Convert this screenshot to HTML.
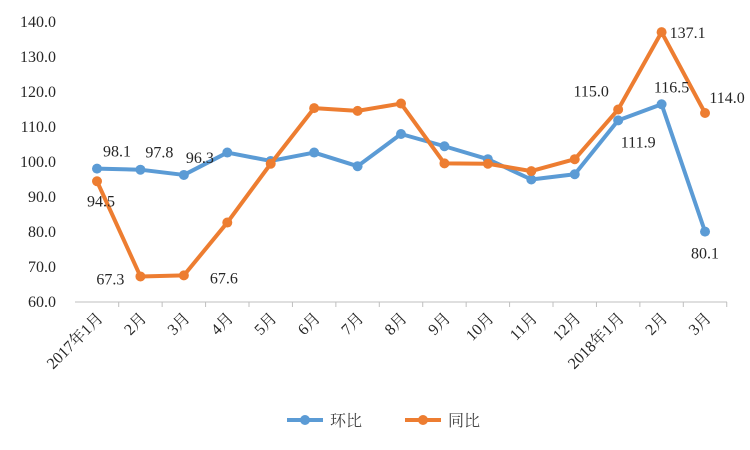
<!DOCTYPE html>
<html><head><meta charset="utf-8"><style>
body{margin:0;background:#fff;}
svg{display:block;font-family:"Liberation Serif","Noto Serif CJK SC",serif;}
</style></head><body>
<svg id="chart" width="750" height="450" viewBox="0 0 750 450" xmlns="http://www.w3.org/2000/svg">
<g id="axes"></g>
<g id="series"></g>
<g id="labels"></g>
<g>
  <g>
    <line x1="287" y1="420" x2="323" y2="420" stroke="#5B9BD5" stroke-width="4"/>
    <circle cx="305" cy="420" r="5" fill="#5B9BD5"/>
    <text x="330" y="426" font-size="16" fill="#404040">环比</text>
  </g>
  <g>
    <line x1="405" y1="420" x2="441" y2="420" stroke="#ED7D31" stroke-width="4"/>
    <circle cx="423" cy="420" r="5" fill="#ED7D31"/>
    <text x="448" y="426" font-size="16" fill="#404040">同比</text>
  </g>
</g>
</svg>
<script>
const categories=["2017年1月","2月","3月","4月","5月","6月","7月","8月","9月","10月","11月","12月","2018年1月","2月","3月"];
const huanbi=[98.1,97.8,96.3,102.7,100.3,102.7,98.8,108.0,104.5,100.8,95.0,96.5,111.9,116.5,80.1];
const tongbi=[94.5,67.3,67.6,82.7,99.5,115.4,114.6,116.7,99.6,99.5,97.4,100.8,115.0,137.1,114.0];
const yTicks=[60,70,80,90,100,110,120,130,140];
const huanbiLabeled=[0,1,2,12,13,14];
const tongbiLabeled=[0,1,2,12,13,14];
const NS="http://www.w3.org/2000/svg";
const x0=97,dx=43.43,yBase=302,yTop=22;
const xs=i=>x0+i*dx;
const ys=v=>yBase-(v-60)*(yBase-yTop)/80;
function mk(tag,attrs,parent){const e=document.createElementNS(NS,tag);for(const k in attrs)e.setAttribute(k,attrs[k]);parent.appendChild(e);return e;}
const axes=document.getElementById('axes');
const ax=mk('line',{x1:75,y1:yBase,x2:727,y2:yBase,stroke:'#BFBFBF','stroke-width':1},axes);


yTicks.forEach(t=>{
  const tx=mk('text',{x:56,y:ys(t)+5,'text-anchor':'end','font-size':16,fill:'#262626'},axes);
  tx.textContent=t.toFixed(1);
  
  
});
categories.forEach((c,i)=>{
  const tk=mk('line',{x1:xs(i)+dx/2,y1:yBase,x2:xs(i)+dx/2,y2:yBase+5,stroke:'#BFBFBF'},axes);
  
  
  const tx=mk('text',{x:xs(i)+7,y:yBase+17,'text-anchor':'end','font-size':16,fill:'#262626',transform:`rotate(-45 ${xs(i)+7} ${yBase+17})`},axes);
  tx.textContent=c;
  
  
});
const series=document.getElementById('series');
function drawSeries(vals,color,name){
  const p=mk('polyline',{points:vals.map((v,i)=>xs(i)+','+ys(v)).join(' '),fill:'none',stroke:color,'stroke-width':4,'stroke-linejoin':'round'},series);
  
  
  vals.forEach((v,i)=>{
    const c=mk('circle',{cx:xs(i),cy:ys(v),r:5,fill:color},series);
    
    
  });
}
drawSeries(huanbi,'#5B9BD5','huanbi');
drawSeries(tongbi,'#ED7D31','tongbi');
const labels=document.getElementById('labels');
const hOff={0:[20,-12],1:[19,-12],2:[16,-12],12:[20,27],13:[10,-12],14:[0,27]};
const tOff={0:[4,25],1:[-30,8],2:[40,8],12:[-27,-13],13:[26,6],14:[22,-10]};
function drawLabels(vals,idx,off,name){
  idx.forEach(i=>{
    const o=off[i];
    const t=mk('text',{x:xs(i)+o[0],y:ys(vals[i])+o[1],'text-anchor':'middle','font-size':16,fill:'#262626'},labels);
    t.textContent=vals[i].toFixed(1);
    
    
  });
}
drawLabels(huanbi,huanbiLabeled,hOff,'huanbi');
drawLabels(tongbi,tongbiLabeled,tOff,'tongbi');
</script>
</body></html>
